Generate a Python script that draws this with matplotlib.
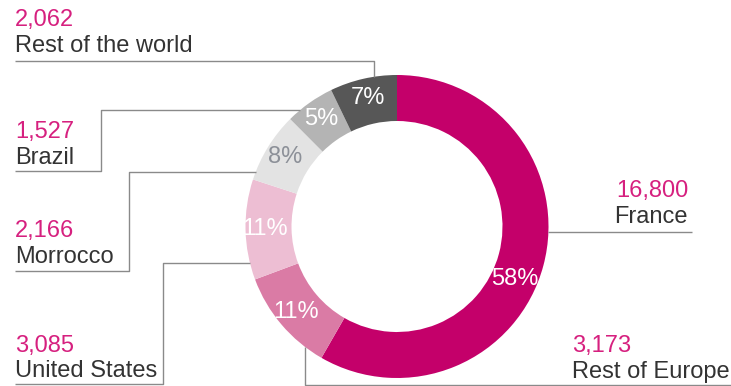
import numpy as np
import matplotlib
matplotlib.use("Agg")
import matplotlib.pyplot as plt

# ---- data ----
regions = ["France", "Rest of Europe", "United States", "Morrocco", "Brazil", "Rest of the world"]
values = [16800, 3173, 3085, 2166, 1527, 2062]
value_labels = ["16,800", "3,173", "3,085", "2,166", "1,527", "2,062"]
colors = ["#C4006A", "#DA7BA5", "#EDBED3", "#E3E3E3", "#B4B4B4", "#575757"]
pct_colors = ["white", "white", "white", "#8C9098", "white", "white"]

W, H = 731, 386
plt.rcParams['font.family'] = ['Liberation Sans', 'DejaVu Sans']
fig = plt.figure(figsize=(W / 100, H / 100), dpi=100)
ax = fig.add_axes([0, 0, 1, 1])

cx, cy_img, R = 397, 226.5, 151.5
cy = H - cy_img
ring = 46

wedges, _, autotexts = ax.pie(values, colors=colors, startangle=90, counterclock=False,
                              radius=R, center=(cx, cy),
                              wedgeprops=dict(width=ring, linewidth=0),
                              autopct=lambda p: f"{p:.0f}%", pctdistance=0.87,
                              textprops=dict(fontsize=17))
for t, c in zip(autotexts, pct_colors):
    t.set_color(c)

# the large-slice label sits a bit lower along the ring
w0 = wedges[0]
ang = np.deg2rad((w0.theta1 + w0.theta2) / 2 - 9)
autotexts[0].set_position((cx + 0.85 * R * np.cos(ang), cy + 0.85 * R * np.sin(ang)))

ax.set_xlim(0, W)
ax.set_ylim(0, H)
ax.set_aspect('equal')
ax.axis('off')

def Y(y):
    return H - y

def edge_x(y_img):
    dy = cy_img - y_img
    return cx - np.sqrt(R ** 2 - dy ** 2)

def edge_y_bottom(x):
    dx = x - cx
    return cy_img + np.sqrt(R ** 2 - dx ** 2)

def edge_y_top(x):
    dx = x - cx
    return cy_img - np.sqrt(R ** 2 - dx ** 2)

lc = "#8A8A8A"
lw = 1.0

def path(xs, ys):
    ax.plot(xs, [Y(v) for v in ys], color=lc, lw=lw, solid_capstyle='butt')

# Rest of the world
path([15, 374, 374], [61, 61, edge_y_top(374)])
# Brazil
path([15, 101, 101, edge_x(110)], [171, 171, 110, 110])
# Morrocco
path([15, 129, 129, edge_x(172)], [271, 271, 172, 172])
# United States
path([15, 163, 163, edge_x(263)], [384, 384, 263, 263])
# France
path([cx + np.sqrt(R ** 2 - (232 - cy_img) ** 2), 692], [232, 232])
# Rest of Europe
path([305, 305, 731], [edge_y_bottom(305), 385, 385])

num_c = "#D6207F"
name_c = "#333333"
fs = 17

def label(x, yb_num, yb_name, i, ha='left'):
    ax.text(x, Y(yb_num), value_labels[i], color=num_c, fontsize=fs, ha=ha, va='baseline')
    ax.text(x, Y(yb_name), regions[i], color=name_c, fontsize=fs, ha=ha, va='baseline')

label(15, 26, 52, 5)
label(15, 138, 164, 4)
label(15, 237, 263, 3)
label(15, 352, 377, 2)
label(688, 197, 223, 0, ha='right')
label(572, 352, 378, 1)

fig.savefig("out.png", dpi=100)
